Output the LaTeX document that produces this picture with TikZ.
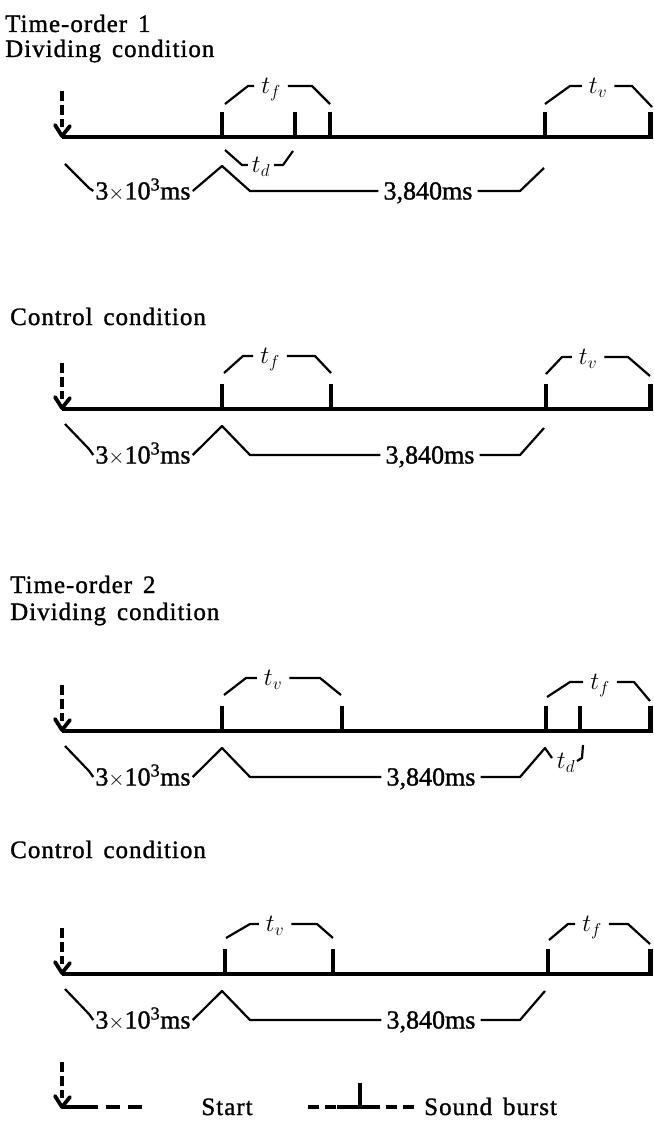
\documentclass[tikz,border=0pt]{standalone}
\usepackage{fontspec}
\setmainfont{Liberation Serif}[FakeBold=1.2]
\newfontfamily\ttlfont[LetterSpace=4,WordSpace=1.5,FakeBold=1.2]{Liberation Serif}
\begin{document}
\begin{tikzpicture}[x=1pt,y=-1pt,
  axis/.style={line width=3.2pt},
  burst/.style={line width=4.4pt},
  brk/.style={line width=2.2pt, line join=round},
  ttl/.style={anchor=base west, inner sep=0pt, font=\ttlfont\fontsize{25}{28}\selectfont},
  num/.style={inner xsep=2pt, inner ysep=0pt, text height=17pt, text depth=0pt, font=\fontsize{26}{28}\selectfont},
  num2/.style={num, inner xsep=5pt},
  tl/.style={inner xsep=7pt, inner ysep=0pt, text height=15pt, text depth=0pt, font=\fontsize{25}{28}\selectfont},
  tdl/.style={tl, inner xsep=4pt},
  startarr/.pic={
    \draw[line width=3.2pt, dash pattern=on 10pt off 4pt] (0,-46) -- (0,-10);
    \draw[line width=3.8pt, line cap=round, line join=round] (-7,-12) -- (0,-1) -- (8,-11);
  }
]
\useasboundingbox (0,0) rectangle (653,1123);
\newcommand\tms{3{\fontsize{22}{24}\selectfont$\times$}10\textsuperscript{3}ms}

% ---------------- Panel 1 ----------------
\node[ttl] (h1) at (5,32) {Time-order 1};
\node[ttl] (h2) at (5,57) {Dividing condition};
\begin{scope}[shift={(0,137)}]
  \coordinate (p1s) at (62,0);
  \coordinate (p1e) at (653,0);
  \draw[axis] (p1s) -- (p1e);
  \pic at (p1s) {startarr};
  \foreach \n/\x in {a/222,b/295,c/330,d/545,e/650.5}
    {\draw[burst] (\x,1) coordinate (p1\n) -- (\x,-25);}
  % t_f
  \node[tl] (p1tf) at (271,-51) {$t_f$};
  \draw[brk] (225,-33) -- (248,-51) -- (p1tf.west);
  \draw[brk] (p1tf.east) -- (312,-51) -- (330,-33);
  % t_v
  \node[tl] (p1tv) at (598,-51) {$t_v$};
  \draw[brk] (545,-33) -- (570,-51) -- (p1tv.west);
  \draw[brk] (p1tv.east) -- (632,-51) -- (652,-30);
  % t_d
  \node[tdl] (p1td) at (261,28) {$t_d$};
  \draw[brk] (225,13) -- (242,28) -- (p1td.west);
  \draw[brk] (p1td.east) -- (283,28) -- (293,14);
  % lower labels
  \node[num] (p1la) at (143,54) {\tms};
  \node[num2] (p1lb) at (428,54) {3,840ms};
  \draw[brk] (65,27) -- (89,51) -- (p1la.west);
  \draw[brk] (p1la.east) -- (222,29) -- (250,54) -- (p1lb.west);
  \draw[brk] (p1lb.east) -- (520,54) -- (544,31);
\end{scope}

% ---------------- Panel 2 ----------------
\node[ttl] (h3) at (10,325) {Control condition};
\begin{scope}[shift={(0,409)}]
  \coordinate (p2s) at (62,0);
  \coordinate (p2e) at (653,0);
  \draw[axis] (p2s) -- (p2e);
  \pic at (p2s) {startarr};
  \foreach \n/\x in {a/222,b/331,c/546,d/650.5}
    {\draw[burst] (\x,1) coordinate (p2\n) -- (\x,-25);}
  \node[tl] (p2tf) at (270,-53) {$t_f$};
  \draw[brk] (224,-36) -- (243,-53) -- (p2tf.west);
  \draw[brk] (p2tf.east) -- (315,-53) -- (331,-36);
  \node[tl] (p2tv) at (588,-52) {$t_v$};
  \draw[brk] (546,-35) -- (562,-52) -- (p2tv.west);
  \draw[brk] (p2tv.east) -- (628,-52) -- (650,-33);
  \node[num] (p2la) at (143,46) {\tms};
  \node[num2] (p2lb) at (430,46) {3,840ms};
  \draw[brk] (65,15) -- (89,40) -- (p2la.west);
  \draw[brk] (p2la.east) -- (222,17) -- (250,46) -- (p2lb.west);
  \draw[brk] (p2lb.east) -- (520,46) -- (544,19);
\end{scope}

% ---------------- Panel 3 ----------------
\node[ttl] (h4) at (10,593) {Time-order 2};
\node[ttl] (h5) at (10,620) {Dividing condition};
\begin{scope}[shift={(0,731)}]
  \coordinate (p3s) at (62,0);
  \coordinate (p3e) at (653,0);
  \draw[axis] (p3s) -- (p3e);
  \pic at (p3s) {startarr};
  \foreach \n/\x in {a/222,b/342,c/546,d/580,e/650.5}
    {\draw[burst] (\x,1) coordinate (p3\n) -- (\x,-25);}
  \node[tl] (p3tv) at (273,-53) {$t_v$};
  \draw[brk] (224,-36) -- (246,-53) -- (p3tv.west);
  \draw[brk] (p3tv.east) -- (320,-53) -- (341,-36);
  \node[tl] (p3tf) at (600,-49) {$t_f$};
  \draw[brk] (547,-34) -- (570,-49) -- (p3tf.west);
  \draw[brk] (p3tf.east) -- (634,-49) -- (650,-30);
  \node[num] (p3la) at (143,46) {\tms};
  \node[num2] (p3lb) at (431,46) {3,840ms};
  \draw[brk] (65,15) -- (89,40) -- (p3la.west);
  \draw[brk] (p3la.east) -- (222,17) -- (250,46) -- (p3lb.west);
  \draw[brk] (p3lb.east) -- (520,46) -- (545,17) -- (552,27);
  \node[inner sep=0pt, text height=15pt, text depth=0pt, font=\fontsize{25}{28}\selectfont] (p3td) at (566,30) {$t_d$};
  \draw[brk] (583,14) -- (582,27) -- (577,30);
\end{scope}

% ---------------- Panel 4 ----------------
\node[ttl] (h6) at (10,858) {Control condition};
\begin{scope}[shift={(0,974)}]
  \coordinate (p4s) at (62,0);
  \coordinate (p4e) at (653,0);
  \draw[axis] (p4s) -- (p4e);
  \pic at (p4s) {startarr};
  \foreach \n/\x in {a/225,b/333,c/548,d/650.5}
    {\draw[burst] (\x,1) coordinate (p4\n) -- (\x,-25);}
  \node[tl] (p4tv) at (275,-50) {$t_v$};
  \draw[brk] (226,-36) -- (250,-50) -- (p4tv.west);
  \draw[brk] (p4tv.east) -- (317,-50) -- (333,-36);
  \node[tl] (p4tf) at (592,-50) {$t_f$};
  \draw[brk] (549,-34) -- (568,-50) -- (p4tf.west);
  \draw[brk] (p4tf.east) -- (628,-50) -- (650,-30);
  \node[num] (p4la) at (143,46) {\tms};
  \node[num2] (p4lb) at (431,46) {3,840ms};
  \draw[brk] (65,15) -- (89,40) -- (p4la.west);
  \draw[brk] (p4la.east) -- (222,17) -- (250,46) -- (p4lb.west);
  \draw[brk] (p4lb.east) -- (520,46) -- (545,17);
\end{scope}

% ---------------- Legend ----------------
\coordinate (la) at (62,1108);
\pic at (la) {startarr};
\coordinate (la2) at (98,1107);
\draw[axis] (62,1107) -- (la2);
\draw[axis, dash pattern=on 14pt off 8pt] (106,1107) -- (146,1107);
\node[ttl, anchor=base] (ls) at (227,1115) {Start};
\coordinate (lt) at (360,1108);
\draw[axis, dash pattern=on 11pt off 6pt] (308,1107) -- (337,1107);
\draw[axis] (337,1107) -- (380,1107);
\draw[burst] (lt) -- (360,1083);
\draw[axis, dash pattern=on 11pt off 6pt] (386,1107) -- (414,1107);
\node[ttl] (lb) at (424,1115) {Sound burst};
\end{tikzpicture}
\end{document}
